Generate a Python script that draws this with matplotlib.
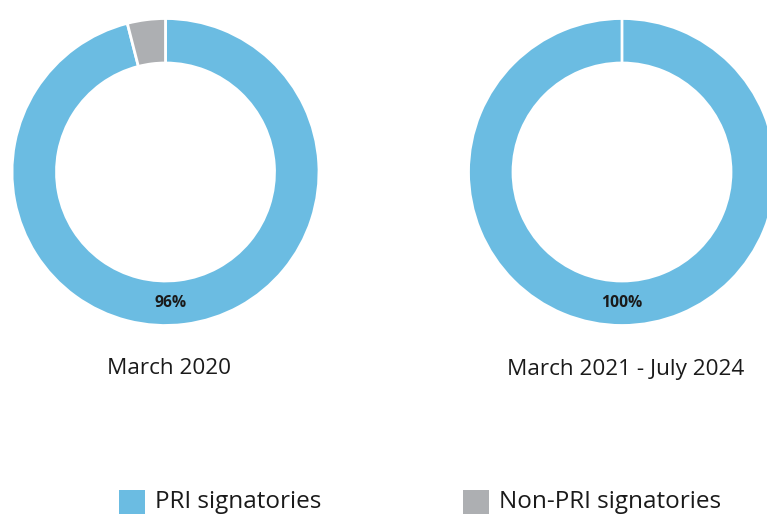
import matplotlib.pyplot as plt
from matplotlib.patches import Rectangle

# data
periods = ['March 2020', 'March 2021 - July 2024']
pri_share = [96, 100]
non_pri_share = [4, 0]
legend_labels = ['PRI signatories', 'Non-PRI signatories']
colors = ['#6BBCE2', '#ADAFB2']

plt.rcParams['font.family'] = ['Open Sans', 'DejaVu Sans']

W, H = 767, 517
fig = plt.figure(figsize=(W / 100, H / 100), dpi=100)
ax = fig.add_axes([0, 0, 1, 1])

centers_x = [165.5, 622]
cy = H - 172
r_out = 153.5
ring = 44.5

for i in range(2):
    ax.pie([pri_share[i], non_pri_share[i]], colors=colors, startangle=90,
           counterclock=False, center=(centers_x[i], cy), radius=r_out,
           wedgeprops=dict(width=ring, edgecolor='white', linewidth=2))
    ax.text(centers_x[i] + (5 if i == 0 else 0), H - 303, f'{pri_share[i]}%',
            ha='center', va='center', fontsize=11.3, fontweight='bold', color='#1a1a1a')
    ax.text(centers_x[i] + 3.5, H - 369, periods[i], ha='center', va='center',
            fontsize=16.2, color='#1a1a1a')

ax.set_xlim(0, W)
ax.set_ylim(0, H)
ax.set_aspect('equal')
ax.axis('off')

# legend
leg_x = [119, 463]
for i in range(2):
    ax.add_patch(Rectangle((leg_x[i], H - 514), 26, 24, facecolor=colors[i], edgecolor='none'))
    ax.text(leg_x[i] + 36, H - 502, legend_labels[i], ha='left', va='center',
            fontsize=17.5, color='#1a1a1a')

fig.savefig('out.png', dpi=100)
